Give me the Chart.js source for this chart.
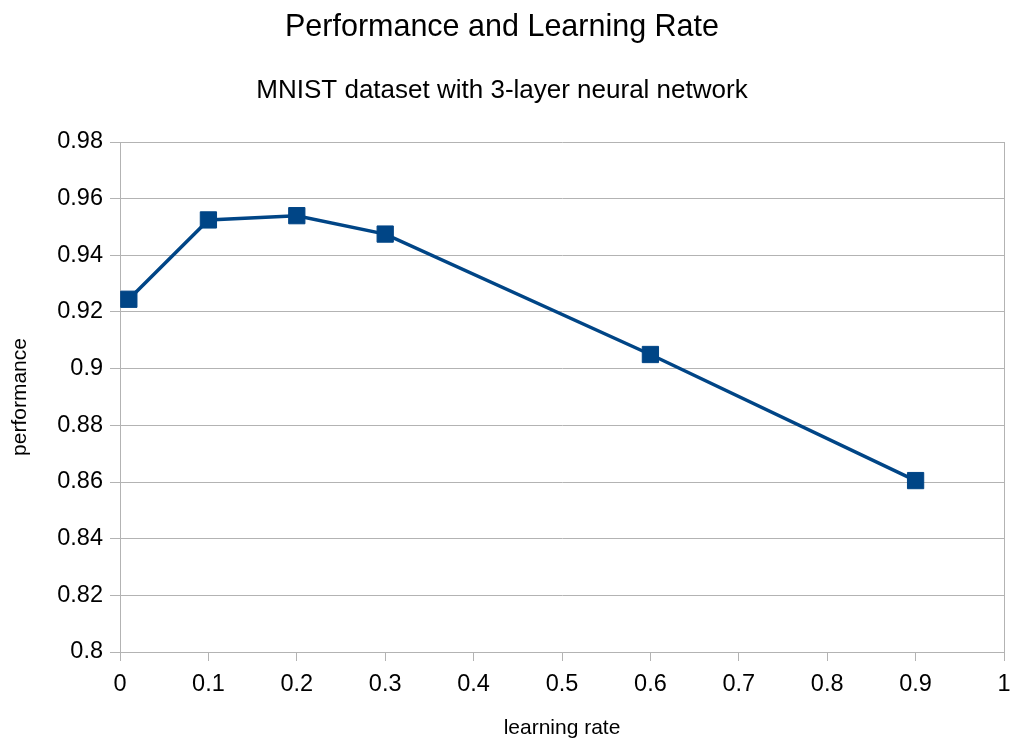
<!DOCTYPE html>
<html>
<head>
<meta charset="utf-8">
<script src="https://cdn.jsdelivr.net/npm/chart.js@4"></script>
<style>
    html, body { margin: 0; padding: 0; background: #ffffff; }
    #wrap { width: 1011px; height: 738px; }
</style>
</head>
<body>
<div id="wrap"><canvas id="perfChart"></canvas></div>
<script>
// Data
const learningRates = [0.01, 0.1, 0.2, 0.3, 0.6, 0.9];
const performance = [0.9245, 0.9525, 0.954, 0.9475, 0.905, 0.8605];

// Axis ticks
const xTicks = [0, 0.1, 0.2, 0.3, 0.4, 0.5, 0.6, 0.7, 0.8, 0.9, 1];
const yTicks = [0.8, 0.82, 0.84, 0.86, 0.88, 0.9, 0.92, 0.94, 0.96, 0.98];

const FONT = "'Liberation Sans', Arial, sans-serif";
const GRID = '#b3b3b3';
const LINE = '#004586';

// Trim trailing zeros like the original (0.9 rather than 0.90)
function fmt(v) {
    return String(parseFloat(v.toFixed(2)));
}

const points = learningRates.map((x, i) => ({ x: x, y: performance[i] }));

const ctx = document.getElementById('perfChart').getContext('2d');

const chart = new Chart(ctx, {
    type: 'line',
    data: {
        datasets: [{
            label: 'performance',
            data: points,
            borderColor: LINE,
            backgroundColor: LINE,
            borderWidth: 3.5,
            pointStyle: 'rect',
            pointRadius: 11.5,
            pointBorderWidth: 1,
            pointBorderColor: LINE,
            pointBackgroundColor: LINE,
            tension: 0
        }]
    },
    options: {
        responsive: true,
        maintainAspectRatio: false,
        animation: false,
        layout: {
            // big square markers would otherwise push the plot edge inwards
            autoPadding: false,
            padding: { top: 0, right: 7, bottom: 0, left: 0 }
        },
        plugins: {
            legend: { display: false },
            tooltip: { enabled: false },
            title: {
                display: true,
                text: 'Performance and Learning Rate',
                color: '#000000',
                font: { family: FONT, size: 30.5, weight: 'normal' },
                padding: { top: 9, bottom: 8 }
            },
            subtitle: {
                display: true,
                text: 'MNIST dataset with 3-layer neural network',
                color: '#000000',
                font: { family: FONT, size: 26, weight: 'normal' },
                padding: { top: 21.8, bottom: 35.4 }
            }
        },
        scales: {
            x: {
                type: 'linear',
                min: 0,
                max: 1,
                afterBuildTicks: (axis) => {
                    axis.ticks = xTicks.map(v => ({ value: v }));
                },
                afterFit: (axis) => {
                    axis.height = 86;
                    axis.paddingRight = 0;
                    axis.paddingLeft = 0;
                },
                ticks: {
                    color: '#000000',
                    font: { family: FONT, size: 23.5 },
                    padding: 9,
                    maxRotation: 0,
                    callback: (v) => fmt(v)
                },
                grid: {
                    drawOnChartArea: true,
                    color: (c) => (c.tick && c.tick.value === 1 ? GRID : 'rgba(0,0,0,0)'),
                    tickColor: GRID,
                    tickLength: 9,
                    lineWidth: 1
                },
                border: { display: true, color: GRID, width: 1 },
                title: {
                    display: true,
                    text: 'learning rate',
                    color: '#000000',
                    font: { family: FONT, size: 21 },
                    padding: { top: 4, bottom: -3 }
                }
            },
            y: {
                type: 'linear',
                min: 0.8,
                max: 0.98,
                afterBuildTicks: (axis) => {
                    axis.ticks = yTicks.map(v => ({ value: v }));
                },
                afterFit: (axis) => {
                    axis.width = 120;
                },
                ticks: {
                    color: '#000000',
                    font: { family: FONT, size: 23.5 },
                    padding: 7,
                    callback: (v) => fmt(v)
                },
                grid: {
                    color: GRID,
                    tickColor: GRID,
                    tickLength: 10,
                    lineWidth: 1
                },
                border: { display: true, color: GRID, width: 1 },
                title: {
                    display: true,
                    text: 'performance',
                    color: '#000000',
                    font: { family: FONT, size: 21 },
                    padding: { top: 8, bottom: 0 }
                }
            }
        }
    }
});
</script>
</body>
</html>
